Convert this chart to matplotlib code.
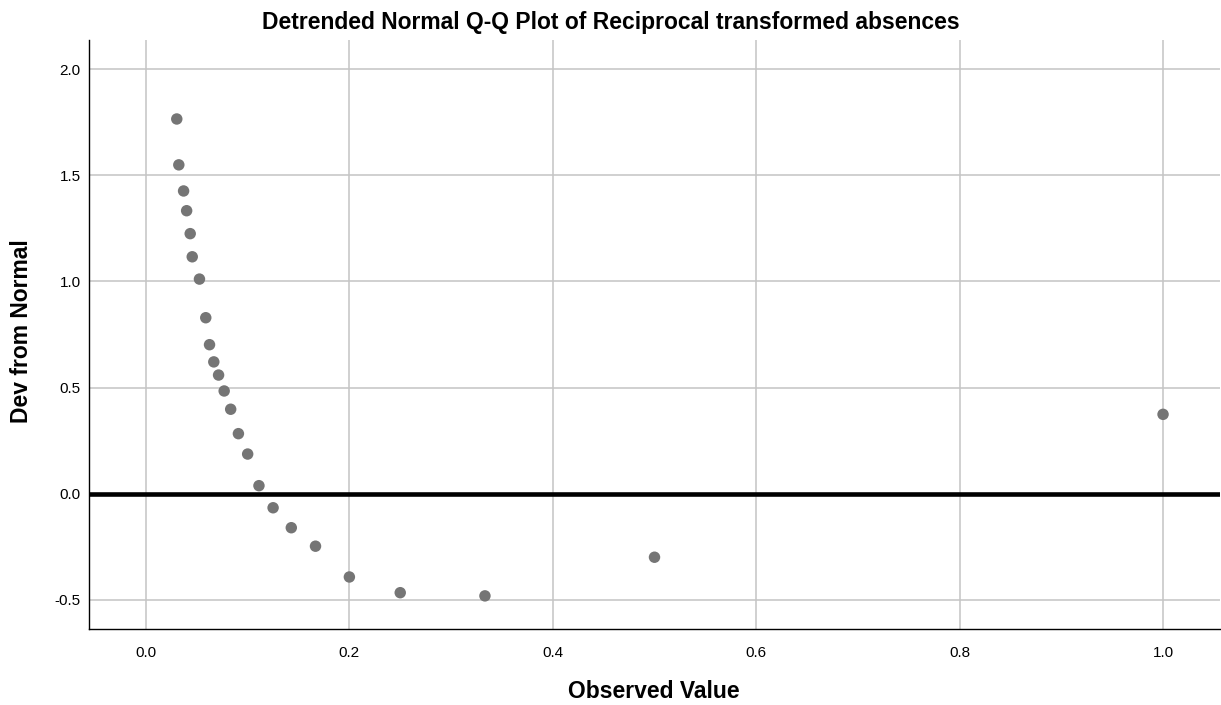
import numpy as np
import matplotlib.pyplot as plt

plt.rcParams['font.family'] = ['Liberation Sans', 'DejaVu Sans']

# observed values (reciprocal of absences) and deviation from normal
observed = [0.0303, 0.0323, 0.0370, 0.0400, 0.0435, 0.0455, 0.0526, 0.0588,
            0.0625, 0.0667, 0.0714, 0.0769, 0.0833, 0.0909, 0.1000, 0.1111,
            0.1250, 0.1429, 0.1667, 0.2000, 0.2500, 0.3333, 0.5000, 1.0000]
deviation = [1.765, 1.549, 1.426, 1.333, 1.225, 1.116, 1.011, 0.829,
             0.702, 0.621, 0.559, 0.484, 0.398, 0.283, 0.187, 0.038,
             -0.066, -0.160, -0.247, -0.392, -0.466, -0.481, -0.299, 0.374]

xticks = [0.0, 0.2, 0.4, 0.6, 0.8, 1.0]
yticks = [-0.5, 0.0, 0.5, 1.0, 1.5, 2.0]

W, H = 1221, 705
fig = plt.figure(figsize=(W / 100, H / 100), dpi=100)
ax = fig.add_axes([89 / W, 1 - 629 / H, (1220 - 89) / W, (629 - 40) / H])

ax.set_xlim(-0.056, 1.056)
ax.set_ylim(-0.637, 2.137)
ax.set_xticks(xticks)
ax.set_yticks(yticks)
ax.set_xticklabels([f'{t:.1f}' for t in xticks], fontsize=11)
ax.set_yticklabels([f'{t:.1f}' for t in yticks], fontsize=11)
ax.tick_params(axis='x', length=0, pad=12.5)
ax.tick_params(axis='y', length=0, pad=6)

ax.grid(True, color='#c4c4c4', linewidth=1.1)
ax.set_axisbelow(True)
for side in ['top', 'right']:
    ax.spines[side].set_visible(False)
for side in ['left', 'bottom']:
    ax.spines[side].set_linewidth(1.0)

ax.axhline(0, color='black', linewidth=3.3, zorder=2)
ax.scatter(observed, deviation, s=68, color='#757575', edgecolors='none', zorder=3)

# labels and title placed in pixel terms
fig.text(654 / W, 1 - 691 / H, 'Observed Value', fontsize=16.5, fontweight='bold',
         ha='center', va='center')
fig.text(22 / W, 1 - 331 / H, 'Dev from Normal', fontsize=16.5, fontweight='bold',
         ha='center', va='center', rotation=90)
fig.text(611 / W, 1 - 22 / H, 'Detrended Normal Q-Q Plot of Reciprocal transformed absences',
         fontsize=16.5, fontweight='bold', ha='center', va='center')

fig.savefig('out.png', dpi=100)
